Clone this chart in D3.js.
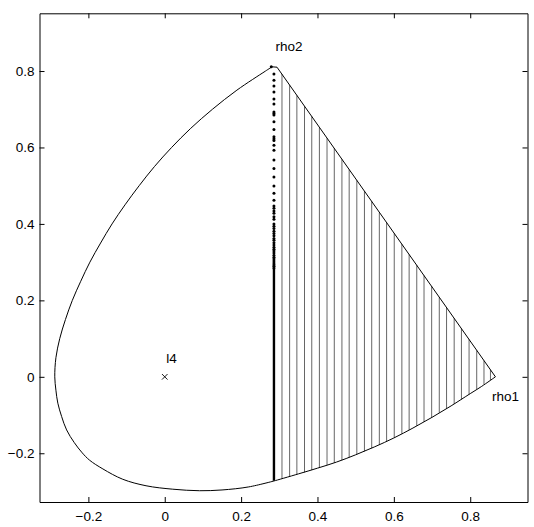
<!DOCTYPE html>
<html>
<head>
<meta charset="utf-8">
<script src="https://cdn.jsdelivr.net/npm/d3@7"></script>
<style>
  html, body { margin: 0; padding: 0; background: #fff; }
  svg { display: block; }
  text { font-family: "Liberation Sans", Arial, Helvetica, sans-serif; font-size: 13.5px; fill: #000; }
</style>
</head>
<body>
<svg class="js-render-chart" width="534" height="527"></svg>
<script>
"use strict";

//data

const xTicks = [-0.2, 0, 0.2, 0.4, 0.6, 0.8];
const yTicks = [-0.2, 0, 0.2, 0.4, 0.6, 0.8];
const tickLabels = ["\u22120.2", "0", "0.2", "0.4", "0.6", "0.8"];

//outer boundary, from the top corner round the left side to the dotted column
const leftArc = [
  [0.281, 0.811], [0.264, 0.800], [0.189, 0.750], [0.125, 0.700], [0.068, 0.650],
  [0.018, 0.600], [-0.027, 0.550], [-0.067, 0.500], [-0.104, 0.450], [-0.138, 0.400],
  [-0.168, 0.350], [-0.196, 0.300], [-0.220, 0.250], [-0.242, 0.200], [-0.260, 0.150],
  [-0.275, 0.100], [-0.285, 0.050], [-0.288, 0.000], [-0.285, -0.035], [-0.280, -0.069],
  [-0.270, -0.104], [-0.257, -0.139], [-0.237, -0.172], [-0.216, -0.199], [-0.197, -0.218],
  [-0.162, -0.241], [-0.110, -0.268], [-0.049, -0.285], [0.021, -0.294], [0.091, -0.298],
  [0.150, -0.296], [0.220, -0.288], [0.288, -0.272]
];

//lower boundary of the hatched region, to the rho1 corner
const lowerArc = [
  [0.288, -0.272], [0.350, -0.254], [0.400, -0.239], [0.450, -0.223], [0.500, -0.204],
  [0.550, -0.183], [0.600, -0.160], [0.650, -0.134], [0.700, -0.106], [0.750, -0.076],
  [0.800, -0.044], [0.830, -0.025], [0.866, 0.000]
];

//straight edge rho1 -> rho2, with the short step to the top corner
const edge = [[0.866, 0.000], [0.294, 0.810], [0.281, 0.811]];

//hatch lines: x, bottom y, top y
const hatchX = [0.307, 0.327, 0.346, 0.366, 0.385, 0.405, 0.425, 0.444, 0.464, 0.483,
  0.503, 0.523, 0.542, 0.562, 0.581, 0.601, 0.621, 0.640, 0.660, 0.679,
  0.699, 0.719, 0.738, 0.758, 0.777, 0.797, 0.817, 0.836, 0.853];
const hatchLow = [-0.266, -0.261, -0.255, -0.250, -0.244, -0.238, -0.231, -0.225, -0.218, -0.211,
  -0.203, -0.195, -0.187, -0.178, -0.169, -0.159, -0.149, -0.139, -0.128, -0.118,
  -0.106, -0.094, -0.083, -0.071, -0.059, -0.046, -0.033, -0.020, -0.009];
const hatchHigh = [0.792, 0.763, 0.736, 0.708, 0.681, 0.652, 0.624, 0.598, 0.569, 0.542,
  0.514, 0.486, 0.459, 0.430, 0.404, 0.375, 0.347, 0.320, 0.292, 0.265,
  0.237, 0.208, 0.181, 0.153, 0.126, 0.098, 0.069, 0.042, 0.018];

//dotted column at x = 0.286, getting denser towards the bottom
const dotX = 0.286;
const dotY = [0.792, 0.776, 0.761, 0.745, 0.727, 0.714, 0.693, 0.689, 0.685, 0.667,
  0.647, 0.628, 0.623, 0.618, 0.606, 0.593, 0.567, 0.545, 0.523, 0.499,
  0.480, 0.462, 0.447, 0.441, 0.434, 0.428, 0.419, 0.412, 0.400, 0.394,
  0.388, 0.381, 0.375, 0.369, 0.362, 0.357, 0.351, 0.345, 0.339, 0.334,
  0.329, 0.324, 0.318, 0.313, 0.308, 0.303, 0.298, 0.293, 0.289, 0.285];
const peakDot = [[0.279, 0.811]];
const solidColumn = [[dotX, 0.285], [dotX, -0.272]];

//labels and marker
const labels = [
  { text: "rho2", x: 0.290, y: 0.853 },
  { text: "rho1", x: 0.857, y: -0.063 },
  { text: "l4", x: 0.004, y: 0.037 }
];
const marker = [[0, 0]];

//chart

const chart = {

  left: 39.5,
  right: 527.5,
  top: 13.3,
  bottom: 502,

  draw() {

    const svg = d3.select(".js-render-chart");

    const x = d3.scaleLinear().domain([-0.328, 0.95]).range([this.left, this.right]);
    const y = d3.scaleLinear().domain([-0.3275, 0.951]).range([this.bottom, this.top]);

    const line = d3.line().x((d) => x(d[0])).y((d) => y(d[1]));
    const smooth = d3.line().x((d) => x(d[0])).y((d) => y(d[1])).curve(d3.curveCatmullRom);

    //hatching

    svg.append("g")
      .selectAll("line")
      .data(hatchX)
      .enter()
      .append("line")
      .attr("x1", (d) => x(d))
      .attr("x2", (d) => x(d))
      .attr("y1", (d, i) => y(hatchLow[i]))
      .attr("y2", (d, i) => y(hatchHigh[i]))
      .attr("stroke", "#555")
      .attr("stroke-width", 0.9);

    //boundary

    const outline = svg.append("g")
      .attr("fill", "none")
      .attr("stroke", "#000")
      .attr("stroke-width", 1);

    outline.append("path").attr("d", smooth(leftArc));
    outline.append("path").attr("d", smooth(lowerArc));
    outline.append("path").attr("d", line(edge));

    //dotted column

    svg.append("path")
      .attr("d", line(solidColumn))
      .attr("stroke", "#000")
      .attr("stroke-width", 2.4);

    svg.append("g")
      .selectAll("circle")
      .data(dotY.map((d) => [dotX, d]).concat(peakDot))
      .enter()
      .append("circle")
      .attr("cx", (d) => x(d[0]))
      .attr("cy", (d) => y(d[1]))
      .attr("r", 1.5)
      .attr("fill", "#000");

    //marker

    svg.append("g")
      .selectAll("path")
      .data(marker)
      .enter()
      .append("path")
      .attr("transform", (d) => `translate(${x(d[0])},${y(d[1])})`)
      .attr("d", d3.symbol(d3.symbolX, 22))
      .attr("fill", "none")
      .attr("stroke", "#000")
      .attr("stroke-width", 0.9);

    //labels

    svg.append("g")
      .selectAll("text")
      .data(labels)
      .enter()
      .append("text")
      .attr("x", (d) => x(d.x))
      .attr("y", (d) => y(d.y))
      .text((d) => d.text);

    //axes

    const fmt = (d, i) => tickLabels[i];

    svg.append("g")
      .attr("transform", `translate(0,${this.bottom})`)
      .call(d3.axisBottom(x).tickValues(xTicks).tickFormat(fmt).tickSizeInner(-5).tickSizeOuter(0).tickPadding(9));

    svg.append("g")
      .attr("transform", `translate(${this.left},0)`)
      .call(d3.axisLeft(y).tickValues(yTicks).tickFormat(fmt).tickSizeInner(-5).tickSizeOuter(0).tickPadding(5));

    svg.append("g")
      .attr("transform", `translate(0,${this.top})`)
      .call(d3.axisTop(x).tickValues(xTicks).tickFormat("").tickSizeInner(-5).tickSizeOuter(0));

    svg.append("g")
      .attr("transform", `translate(${this.right},0)`)
      .call(d3.axisRight(y).tickValues(yTicks).tickFormat("").tickSizeInner(-5).tickSizeOuter(0));

    svg.selectAll(".tick text")
      .attr("font-family", "'Liberation Sans', Arial, Helvetica, sans-serif")
      .attr("font-size", 13.5);

    svg.selectAll(".domain, .tick line").attr("stroke", "#000");

  }

};

chart.draw();
</script>
</body>
</html>
